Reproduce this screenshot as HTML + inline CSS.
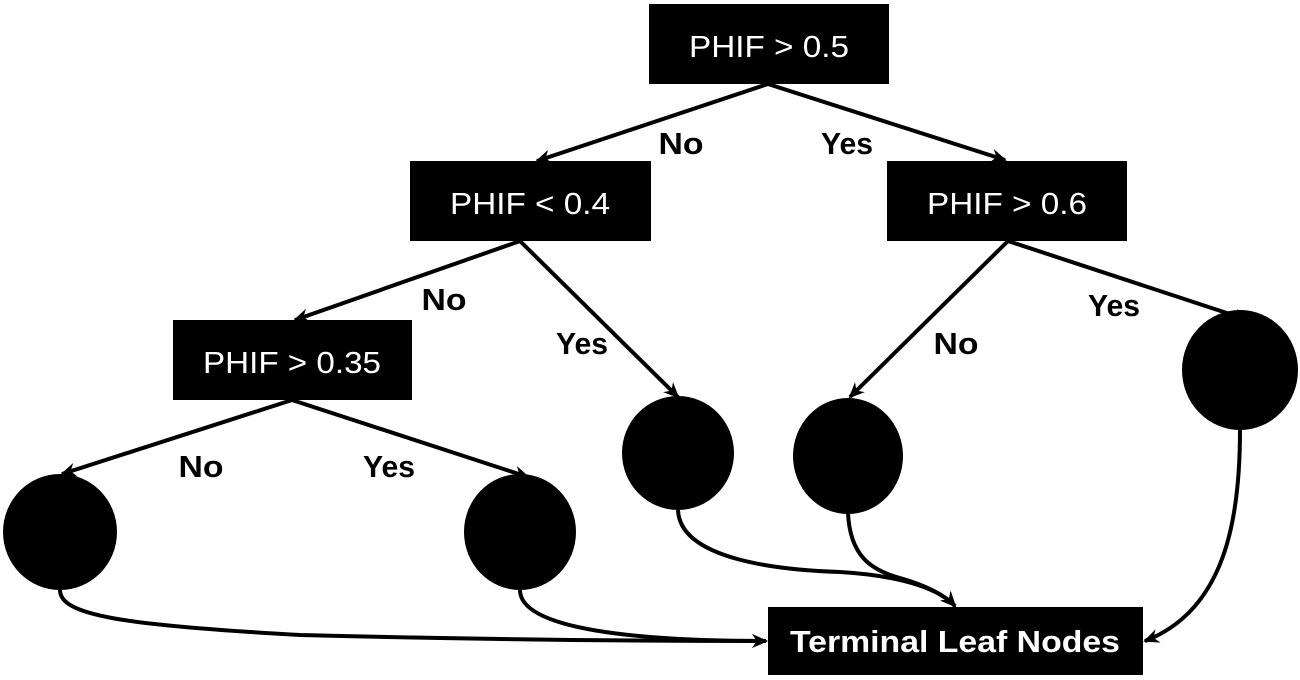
<!DOCTYPE html>
<html><head><style>html,body{margin:0;padding:0;background:#fff;}svg{display:block}</style></head>
<body>
<svg width="1300" height="680" viewBox="0 0 1300 680" xmlns="http://www.w3.org/2000/svg" font-family="Liberation Sans, sans-serif">
<defs>
<marker id="b" markerWidth="16" markerHeight="16" refX="14" refY="8" orient="auto" markerUnits="userSpaceOnUse" viewBox="0 0 16 16">
<path d="M0,1 L16,8 L0,15 L5,8 z" fill="#000"/>
</marker>
</defs>
<g stroke="#000" stroke-width="4" fill="none" marker-end="url(#b)">
<line x1="768" y1="84" x2="537" y2="161"/>
<line x1="768" y1="84" x2="1005" y2="160"/>
<line x1="520" y1="241" x2="295" y2="320"/>
<line x1="520" y1="241" x2="678" y2="397"/>
<line x1="1008" y1="241" x2="850" y2="397"/>
<line x1="1008" y1="241" x2="1248" y2="320"/>
<line x1="292" y1="400" x2="62" y2="474"/>
<line x1="292" y1="400" x2="528" y2="477"/>
<path d="M60,590 C60,615 120,625 300,635 C500,640 650,641 766,641"/>
<path d="M520,590 C520,630 640,641 766,641"/>
<path d="M678,510 C680,560 780,570 840,572 C890,575 935,585 955,606"/>
<path d="M848,513 C850,555 870,570 900,578 C925,585 945,595 955,606"/>
<path d="M1240,430 C1240,520 1225,610 1145,641"/>
</g>
<g fill="#000">
<rect x="649" y="4" width="240" height="80"/>
<rect x="410" y="161" width="241" height="80"/>
<rect x="887" y="161" width="240" height="80"/>
<rect x="173" y="320" width="239" height="80"/>
<rect x="768" y="607" width="375" height="68"/>
<ellipse cx="60" cy="532" rx="57" ry="58"/>
<ellipse cx="520" cy="532" rx="56" ry="58"/>
<ellipse cx="678" cy="453" rx="56" ry="57"/>
<ellipse cx="848" cy="456" rx="55" ry="58"/>
<ellipse cx="1240" cy="370" rx="58" ry="60"/>
</g>
<g fill="#fff" font-size="31" text-anchor="middle">
<text x="769" y="57" textLength="160" lengthAdjust="spacingAndGlyphs">PHIF &gt; 0.5</text>
<text x="530" y="214" textLength="160" lengthAdjust="spacingAndGlyphs">PHIF &lt; 0.4</text>
<text x="1007" y="214" textLength="160" lengthAdjust="spacingAndGlyphs">PHIF &gt; 0.6</text>
<text x="292" y="373" textLength="178" lengthAdjust="spacingAndGlyphs">PHIF &gt; 0.35</text>
<text x="955" y="652" font-weight="bold" font-size="31" textLength="330" lengthAdjust="spacingAndGlyphs">Terminal Leaf Nodes</text>
</g>
<g fill="#000" font-size="31" font-weight="bold" text-anchor="middle">
<text x="681" y="154" textLength="45" lengthAdjust="spacingAndGlyphs">No</text>
<text x="847" y="154" textLength="52" lengthAdjust="spacingAndGlyphs">Yes</text>
<text x="444" y="310" textLength="45" lengthAdjust="spacingAndGlyphs">No</text>
<text x="582" y="354" textLength="52" lengthAdjust="spacingAndGlyphs">Yes</text>
<text x="956" y="354" textLength="45" lengthAdjust="spacingAndGlyphs">No</text>
<text x="1114" y="316" textLength="52" lengthAdjust="spacingAndGlyphs">Yes</text>
<text x="201" y="477" textLength="45" lengthAdjust="spacingAndGlyphs">No</text>
<text x="389" y="477" textLength="52" lengthAdjust="spacingAndGlyphs">Yes</text>
</g>
</svg>
</body></html>
